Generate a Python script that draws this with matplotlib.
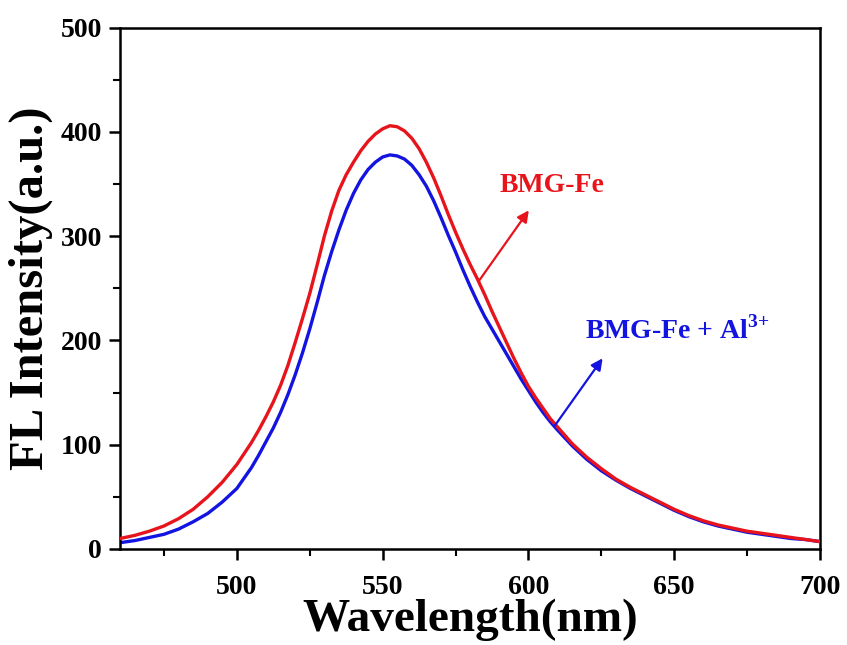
import matplotlib
matplotlib.use("Agg")
import matplotlib.pyplot as plt
from matplotlib.ticker import MultipleLocator

# emission spectra (finer steps around the peak)
wavelength = [460, 465, 470, 475, 480, 485, 490, 495, 500,
              505, 507.5, 510, 512.5, 515, 517.5, 520, 522.5, 525, 527.5,
              530, 532.5, 535, 537.5, 540, 542.5, 545, 547.5, 550, 552.5,
              555, 557.5, 560, 562.5, 565, 567.5, 570, 572.5, 575, 577.5,
              580, 582.5, 585, 587.5, 590, 592.5, 595, 597.5, 600, 602.5,
              605, 607.5, 610,
              615, 620, 625, 630, 635, 640, 645, 650, 655, 660, 665, 670,
              675, 680, 685, 690, 695, 700]

bmg_fe = [10, 13, 17, 22, 29, 38, 50, 64, 81,
          102, 114, 127, 141, 157, 176, 198, 221, 245, 272,
          300, 324, 344, 359, 371, 382, 391, 398, 403, 406,
          405, 401, 394, 384, 371, 356, 339, 321, 304, 288,
          273, 259, 244, 228, 213, 198, 183, 169, 156, 145,
          135, 125, 117,
          101, 88, 77, 67, 59, 52, 45, 38, 32, 27, 23, 20,
          17, 15, 13, 11, 9, 7]

bmg_fe_al = [6, 8, 11, 14, 19, 26, 34, 45, 58,
             78, 90, 103, 116, 131, 148, 167, 188, 211, 236,
             262, 285, 306, 325, 341, 354, 364, 371, 376, 378,
             377, 374, 368, 359, 348, 334, 318, 301, 285, 268,
             252, 237, 223, 211, 199, 187, 175, 163, 152, 141,
             131, 122, 114,
             99, 86, 75, 66, 58, 51, 44, 37, 31, 26, 22, 19,
             16, 14, 12, 10, 9, 7]

x_ticks = [500, 550, 600, 650, 700]
y_ticks = [0, 100, 200, 300, 400, 500]

plt.rcParams["font.family"] = ["Liberation Serif", "DejaVu Serif"]
plt.rcParams["font.weight"] = "bold"
plt.rcParams["mathtext.fontset"] = "custom"
plt.rcParams["mathtext.rm"] = "Liberation Serif:bold"
plt.rcParams["mathtext.bf"] = "Liberation Serif:bold"

fig = plt.figure(figsize=(8.47, 6.45), dpi=100)
ax = fig.add_axes([0.142, 0.149, 0.826, 0.808])

red = "#e8141c"
blue = "#1414e0"
ax.plot(wavelength, bmg_fe, color=red, lw=2.4, zorder=3)
ax.plot(wavelength, bmg_fe_al, color=blue, lw=2.4, zorder=2)

ax.set_xlim(460, 700)
ax.set_ylim(0, 500)
ax.set_xticks(x_ticks)
ax.set_yticks(y_ticks)
ax.xaxis.set_minor_locator(MultipleLocator(25))
ax.yaxis.set_minor_locator(MultipleLocator(50))

for s in ax.spines.values():
    s.set_linewidth(1.8)
ax.tick_params(which="major", direction="out", length=8, width=1.8,
               labelsize=20, pad=5)
ax.tick_params(axis="x", which="major", pad=11)
ax.tick_params(which="minor", direction="out", length=5, width=1.5)
for lab in ax.get_xticklabels() + ax.get_yticklabels():
    lab.set_fontweight("bold")

ax.set_xlabel("Wavelength(nm)", fontsize=34, fontweight="bold", labelpad=-1)
ax.set_ylabel("FL Intensity(a.u.)", fontsize=35, fontweight="bold", labelpad=6)

# labels with arrows
ax.annotate("", xy=(600.7, 327), xytext=(582.5, 255),
            arrowprops=dict(arrowstyle="-|>", color=red, lw=1.6,
                            mutation_scale=17))
ax.text(590, 349, "BMG-Fe", color=red, fontsize=20, fontweight="bold",
        ha="left", va="center")

ax.annotate("", xy=(626, 185), xytext=(608.5, 116),
            arrowprops=dict(arrowstyle="-|>", color=blue, lw=1.6,
                            mutation_scale=17))
ax.text(619.5, 210, r"BMG-Fe + Al$^{\mathbf{3{+}}}$", color=blue, fontsize=20,
        fontweight="bold", ha="left", va="center")

fig.savefig("out.png", dpi=100)
